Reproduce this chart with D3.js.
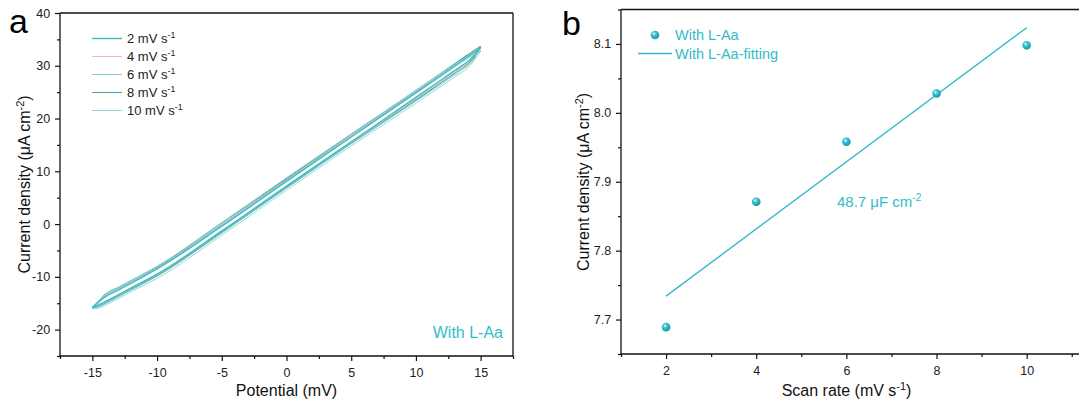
<!DOCTYPE html>
<html>
<head>
<meta charset="utf-8">
<script src="https://cdn.jsdelivr.net/npm/d3@7"></script>
<style>
  html, body { margin: 0; padding: 0; background: #fff; }
  svg { display: block; font-family: "Liberation Sans", Arial, sans-serif; }
</style>
</head>
<body>
<svg id="fig" width="1079" height="405"></svg>
<script>
// ---------- Panel a: cyclic voltammograms at several scan rates ----------
const potential = [-15, -14.5, -14, -13, -12, -10, -5, 0, 5, 10, 12, 13, 14, 14.5, 15];

// anodic (forward) and cathodic (reverse) branches, µA cm-2, listed at the potentials above
const fwd2  = [-15.8, -14.7, -13.8, -12.5, -11.2, -8.5, -0.4, 8.1, 16.5, 24.9, 28.3, 30.0, 31.7, 32.5, 33.4];
const rev2  = [-15.8, -15.3, -14.7, -13.4, -12.1, -9.5, -1.3, 7.2, 15.6, 24.0, 27.4, 29.1, 30.8, 31.9, 33.4];
const fwd4  = [-15.9, -14.6, -13.5, -12.2, -10.9, -8.3, -0.1, 8.4, 16.8, 25.1, 28.5, 30.2, 31.9, 32.7, 33.6];
const rev4  = [-15.9, -15.4, -14.8, -13.5, -12.2, -9.6, -1.4, 7.1, 15.5, 23.8, 27.2, 28.9, 30.6, 31.8, 33.6];
const fwd6  = [-16.0, -14.9, -13.6, -12.3, -11.0, -8.4, -0.2, 8.2, 16.6, 24.8, 28.1, 29.8, 31.4, 32.1, 32.8];
const rev6  = [-16.0, -15.7, -15.1, -13.8, -12.5, -9.9, -1.7, 6.8, 15.2, 23.3, 26.6, 28.3, 30.0, 31.2, 32.8];
const fwd8  = [-15.9, -14.6, -13.3, -12.0, -10.7, -8.1, 0.2, 8.6, 17.0, 25.3, 28.7, 30.4, 32.1, 32.9, 33.7];
const rev8  = [-15.9, -15.6, -15.0, -13.7, -12.4, -9.8, -1.6, 6.9, 15.3, 23.5, 26.9, 28.6, 30.3, 31.6, 33.7];
const fwd10 = [-16.1, -14.7, -13.3, -12.0, -10.7, -8.0, 0.3, 8.8, 17.1, 25.3, 28.6, 30.2, 31.8, 32.4, 32.9];
const rev10 = [-16.1, -15.9, -15.4, -14.1, -12.8, -10.3, -2.1, 6.4, 14.8, 22.9, 26.2, 27.9, 29.6, 31.0, 32.9];

const cvLabels = ["2 mV s", "4 mV s", "6 mV s", "8 mV s", "10 mV s"];
const cvColors = ["#3dbcc0", "#f1b6c8", "#7fcfd1", "#4fa594", "#92d9df"];
const cvWidths = [1.4, 1, 1, 1.1, 1];

const potentialTicks = [-15, -10, -5, 0, 5, 10, 15];
const currentTicksA = [-20, -10, 0, 10, 20, 30, 40];

// ---------- Panel b: double-layer charging current vs scan rate ----------
const scanRate = [2, 4, 6, 8, 10];
const currentDensity = [7.689, 7.871, 7.958, 8.028, 8.098];
const cdlSlope = 0.0487;          // µA cm-2 per mV s-1  -> 48.7 µF cm-2
const scanTicks = [2, 4, 6, 8, 10];
const currentTicksB = [7.7, 7.8, 7.9, 8.0, 8.1];

const teal = "#33bcc9";
const tickColor = "#222";

const svg = d3.select("#fig");

const defs = svg.append("defs");
const grad = defs.append("radialGradient").attr("id", "ball")
  .attr("cx", "38%").attr("cy", "35%").attr("r", "65%");
grad.append("stop").attr("offset", "0%").attr("stop-color", "#e9fcfe");
grad.append("stop").attr("offset", "35%").attr("stop-color", "#3fc5d3");
grad.append("stop").attr("offset", "100%").attr("stop-color", "#1496a6");

// text with a superscript part
function supText(sel, base, sup, tail, size) {
  sel.append("tspan").text(base);
  sel.append("tspan").attr("font-size", size * 0.68).attr("dy", -size * 0.38).text(sup);
  if (tail) sel.append("tspan").attr("font-size", size).attr("dy", size * 0.38).text(tail);
  return sel;
}

// plain hyphen-minus labels
const fmtInt = d => String(d);
const fmt1 = d => d.toFixed(1);

function drawFrame(g, x, y, majorX, majorY, minorX, minorY, fmtX, fmtY, boxRight) {
  const [x0, x1] = x.range();
  const [y0, y1] = y.range(); // y0 bottom, y1 top
  const axisX = d3.axisBottom(x).tickValues(majorX).tickSize(5).tickFormat(fmtX).tickSizeOuter(0);
  const axisY = d3.axisLeft(y).tickValues(majorY).tickSize(5).tickFormat(fmtY).tickSizeOuter(0);
  const gx = g.append("g").attr("transform", `translate(0,${y0})`).call(axisX);
  const gy = g.append("g").attr("transform", `translate(${x0},0)`).call(axisY);
  gx.append("g").call(d3.axisBottom(x).tickValues(minorX).tickSize(3).tickFormat("").tickSizeOuter(0));
  gy.append("g").call(d3.axisLeft(y).tickValues(minorY).tickSize(3).tickFormat("").tickSizeOuter(0));
  [gx, gy].forEach(a => {
    a.selectAll(".domain").remove();
    a.selectAll("line").attr("stroke", "#111").attr("stroke-width", 1.2);
    a.selectAll("text").attr("fill", tickColor).attr("font-size", 12.5)
      .attr("font-family", "Liberation Sans, Arial, sans-serif");
  });
  gx.selectAll("text").attr("dy", "1.05em");
  gy.selectAll("text").attr("dx", "-0.15em");
  // frame
  const frame = g.append("g").attr("fill", "none").attr("stroke", "#111").attr("stroke-width", 1.3);
  frame.append("line").attr("x1", x0).attr("x2", x1).attr("y1", y0).attr("y2", y0);
  frame.append("line").attr("x1", x0).attr("x2", x0).attr("y1", y0).attr("y2", y1);
  frame.append("line").attr("x1", x0).attr("x2", x1).attr("y1", y1).attr("y2", y1);
  if (boxRight) frame.append("line").attr("x1", x1).attr("x2", x1).attr("y1", y0).attr("y2", y1);
}

// ================= Panel a =================
const gA = svg.append("g");
const xA = d3.scaleLinear().domain([-17.5, 17.5]).range([60, 513]);
const yA = d3.scaleLinear().domain([-25, 40]).range([356, 13]);

const cvSeries = [
  { label: cvLabels[0], fwd: fwd2,  rev: rev2,  color: cvColors[0], w: cvWidths[0] },
  { label: cvLabels[1], fwd: fwd4,  rev: rev4,  color: cvColors[1], w: cvWidths[1] },
  { label: cvLabels[2], fwd: fwd6,  rev: rev6,  color: cvColors[2], w: cvWidths[2] },
  { label: cvLabels[3], fwd: fwd8,  rev: rev8,  color: cvColors[3], w: cvWidths[3] },
  { label: cvLabels[4], fwd: fwd10, rev: rev10, color: cvColors[4], w: cvWidths[4] }
];

// each branch is monotone in potential, so draw them as two smooth paths
const cvLine = d3.line().x(d => xA(d[0])).y(d => yA(d[1])).curve(d3.curveMonotoneX);
const drawOrder = [1, 3, 2, 4, 0];
drawOrder.forEach(i => {
  const s = cvSeries[i];
  [s.fwd, s.rev].forEach(branch => {
    gA.append("path").attr("d", cvLine(potential.map((e, k) => [e, branch[k]])))
      .attr("fill", "none").attr("stroke", s.color).attr("stroke-width", s.w)
      .attr("stroke-linejoin", "round");
  });
});

drawFrame(gA, xA, yA, potentialTicks, currentTicksA,
  d3.range(-17.5, 17.6, 5), d3.range(-25, 41, 10), fmtInt, fmtInt, true);

// legend
const legA = gA.append("g");
cvSeries.forEach((s, i) => {
  const yy = 38.5 + i * 18;
  legA.append("line").attr("x1", 92).attr("x2", 122).attr("y1", yy).attr("y2", yy)
    .attr("stroke", s.color).attr("stroke-width", s.w);
  const t = legA.append("text").attr("x", 127).attr("y", yy + 4.5)
    .attr("font-size", 13).attr("fill", "#222");
  supText(t, s.label, "-1", null, 13);
});

gA.append("text").attr("x", 503).attr("y", 338).attr("text-anchor", "end")
  .attr("font-size", 16).attr("fill", teal).text("With L-Aa");

gA.append("text").attr("x", 286.5).attr("y", 396).attr("text-anchor", "middle")
  .attr("font-size", 16).attr("fill", "#111").text("Potential (mV)");
const ytA = gA.append("text").attr("transform", "translate(30,184.5) rotate(-90)")
  .attr("text-anchor", "middle").attr("font-size", 16).attr("fill", "#111");
supText(ytA, "Current density (\u03bcA cm", "-2", ")", 16);

svg.append("text").attr("x", 9).attr("y", 33).attr("font-size", 34).attr("fill", "#000").text("a");

// ================= Panel b =================
const gB = svg.append("g");
const xB = d3.scaleLinear().domain([1, 11.25]).range([621, 1083]);
const yB = d3.scaleLinear().domain([7.65, 8.15]).range([354, 9.5]);

const meanX = d3.mean(scanRate), meanY = d3.mean(currentDensity);
const fitAt = v => meanY + cdlSlope * (v - meanX);
const fitPts = [scanRate[0], scanRate[scanRate.length - 1]].map(v => [v, fitAt(v)]);

gB.append("path")
  .attr("d", d3.line().x(d => xB(d[0])).y(d => yB(d[1]))(fitPts))
  .attr("fill", "none").attr("stroke", teal).attr("stroke-width", 1.4);

gB.selectAll("circle.pt").data(scanRate.map((v, i) => [v, currentDensity[i]]))
  .join("circle").attr("class", "pt")
  .attr("cx", d => xB(d[0])).attr("cy", d => yB(d[1])).attr("r", 4.3)
  .attr("fill", "url(#ball)");

drawFrame(gB, xB, yB, scanTicks, currentTicksB,
  d3.range(1, 11.1, 2), d3.range(7.65, 8.16, 0.1).map(v => +v.toFixed(2)),
  fmtInt, fmt1, false);

// legend
gB.append("circle").attr("cx", 655).attr("cy", 35).attr("r", 4.3).attr("fill", "url(#ball)");
gB.append("text").attr("x", 675).attr("y", 40).attr("font-size", 14.5).attr("fill", teal).text("With L-Aa");
gB.append("line").attr("x1", 638).attr("x2", 672).attr("y1", 53.5).attr("y2", 53.5)
  .attr("stroke", teal).attr("stroke-width", 1.4);
gB.append("text").attr("x", 675).attr("y", 59).attr("font-size", 14.5).attr("fill", teal).text("With L-Aa-fitting");

const ann = gB.append("text").attr("x", 837).attr("y", 207).attr("font-size", 15).attr("fill", teal);
supText(ann, "48.7 \u03bcF cm", "-2", null, 15);

const xtB = gB.append("text").attr("x", 846.5).attr("y", 396).attr("text-anchor", "middle")
  .attr("font-size", 16).attr("fill", "#111");
supText(xtB, "Scan rate (mV s", "-1", ")", 16);
const ytB = gB.append("text").attr("transform", "translate(589,182) rotate(-90)")
  .attr("text-anchor", "middle").attr("font-size", 16).attr("fill", "#111");
supText(ytB, "Current density (\u03bcA cm", "-2", ")", 16);

svg.append("text").attr("x", 562).attr("y", 35).attr("font-size", 34).attr("fill", "#000").text("b");
</script>
</body>
</html>
